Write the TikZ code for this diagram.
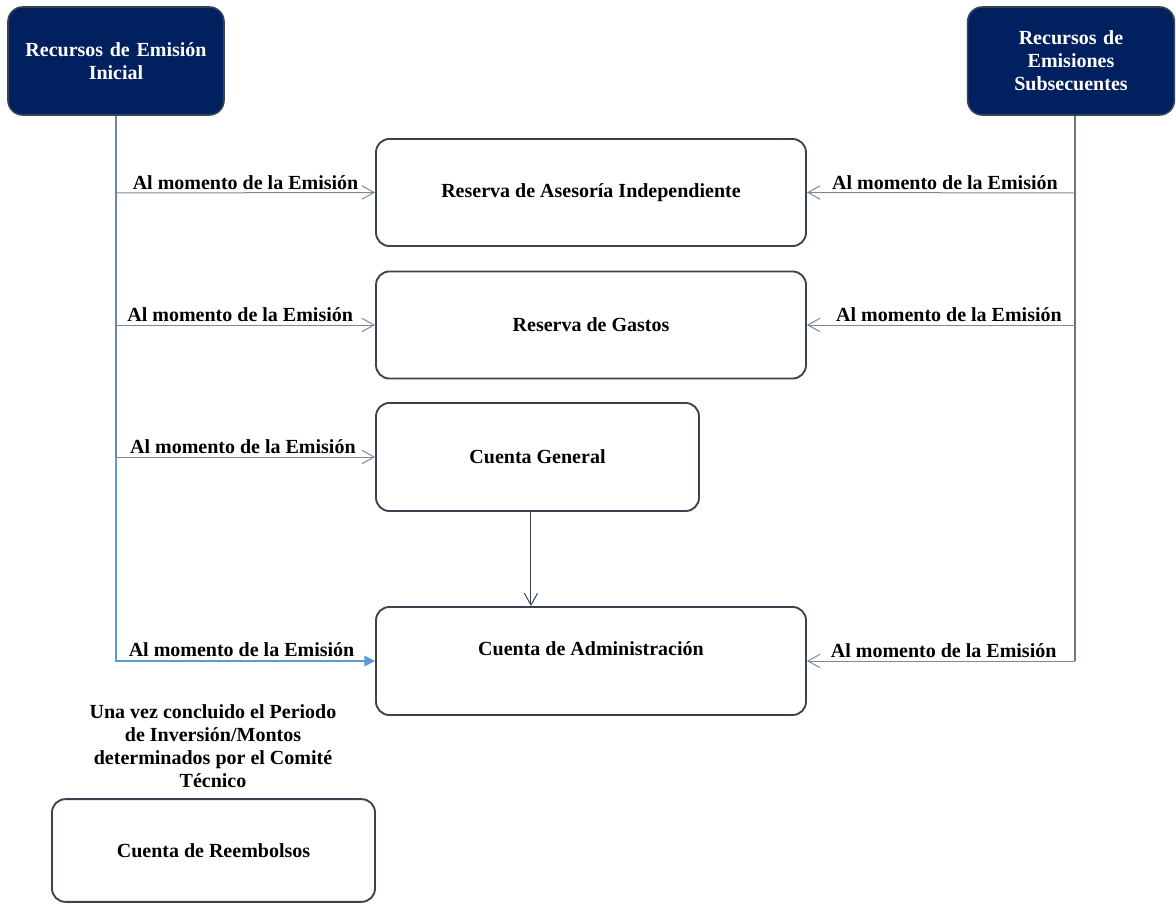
\documentclass[tikz,border=0pt]{standalone}
\usepackage{fontspec}
\setmainfont{Liberation Serif}
\usetikzlibrary{arrows.meta}
\definecolor{navy}{HTML}{002060}
\definecolor{boxline}{HTML}{3A4352}
\definecolor{linkgray}{HTML}{7E889A}
\definecolor{trunkleft}{HTML}{6A86A8}
\definecolor{trunkright}{HTML}{6B7585}
\definecolor{linkblue}{HTML}{5B9BD5}
\begin{document}
\begin{tikzpicture}[x=0.75pt,y=-0.75pt,
  txt/.style={font=\fontsize{15}{17.25}\selectfont\bfseries, align=center},
  navbox/.style={txt, draw=boxline, line width=1.2pt, fill=navy, text=white,
    rounded corners=11pt, inner sep=0pt},
  acct/.style={txt, draw=boxline, line width=1.4pt, rounded corners=10pt, inner sep=0pt},
  feed/.style={draw=linkgray, line width=0.75pt,
    -{Straight Barb[length=9pt,width=10pt,line width=0.75pt]}},
  feedlast/.style={draw=linkblue, line width=0.9pt,
    -{Triangle[length=8pt,width=8pt]}},
  tag/.style={txt, inner sep=2pt, above}
]
\useasboundingbox (0,0) rectangle (1176,905);

% funding sources
\node[navbox, minimum width=162pt, minimum height=81pt, text width=150pt] (A) at (116,61)
  {Recursos de Emisión\\Inicial};
\node[navbox, minimum width=155pt, minimum height=81pt, text width=145pt] (B) at (1071,61)
  {Recursos de\\Emisiones\\Subsecuentes};

% accounts
\node[acct, minimum width=322.5pt, minimum height=80.25pt] (C) at (591,192.5)
  {\raisebox{-2pt}{Reserva de Asesoría Independiente}};
\node[acct, minimum width=322.5pt, minimum height=80.25pt] (D) at (591,325)
  {Reserva de Gastos};
\node[acct, minimum width=242.25pt, minimum height=81pt] (E) at (537.5,457)
  {Cuenta General};
\node[acct, minimum width=322.5pt, minimum height=81pt,
  label={[txt, yshift=9pt]center:Cuenta de Administración}] (F) at (591,661) {};
\node[acct, minimum width=242.25pt, minimum height=77pt] (G) at (213.5,850.5)
  {Cuenta de Reembolsos};

\node[txt] (note) at (213,746.5)
  {Una vez concluido el Periodo\\de Inversión/Montos\\determinados por el Comité\\Técnico};

% junctions on the trunk lines
\coordinate (L1) at (116,193);
\coordinate (L2) at (116,325);
\coordinate (L3) at (116,457);
\coordinate (L4) at (116,661);
\coordinate (R1) at (1075,193);
\coordinate (R2) at (1075,325);
\coordinate (R4) at (1075,661);

% trunks
\draw[trunkleft, line width=0.9pt] (A.south) -- (L3);
\draw[trunkright, line width=0.9pt] (B.south -| R1) -- (R4);

% transfers from the initial issue
\draw[feed] (L1) -- node[tag] {Al momento de la Emisión} (C.west);
\draw[feed] (L2) -- node[tag, xshift=-4pt] {Al momento de la Emisión} (D.west);
\draw[feed] (L3) -- node[tag, xshift=-2pt] {Al momento de la Emisión} (E.west);
\draw[feedlast] (L3) -- (L4) -- node[tag, xshift=-3pt, yshift=1pt] {Al momento de la Emisión} (F.west);

% transfers from subsequent issues
\draw[feed] (R1) -- node[tag, xshift=3pt] {Al momento de la Emisión} (C.east);
\draw[feed] (R2) -- node[tag, xshift=6pt] {Al momento de la Emisión} (D.east);
\draw[feed] (R4) -- node[tag, xshift=2pt] {Al momento de la Emisión} (F.east);

% general account to administration account
\draw[feed, draw=boxline] ([xshift=-4.9pt]E.south) -- ([xshift=-4.9pt]E.south |- F.north);
\end{tikzpicture}
\end{document}
